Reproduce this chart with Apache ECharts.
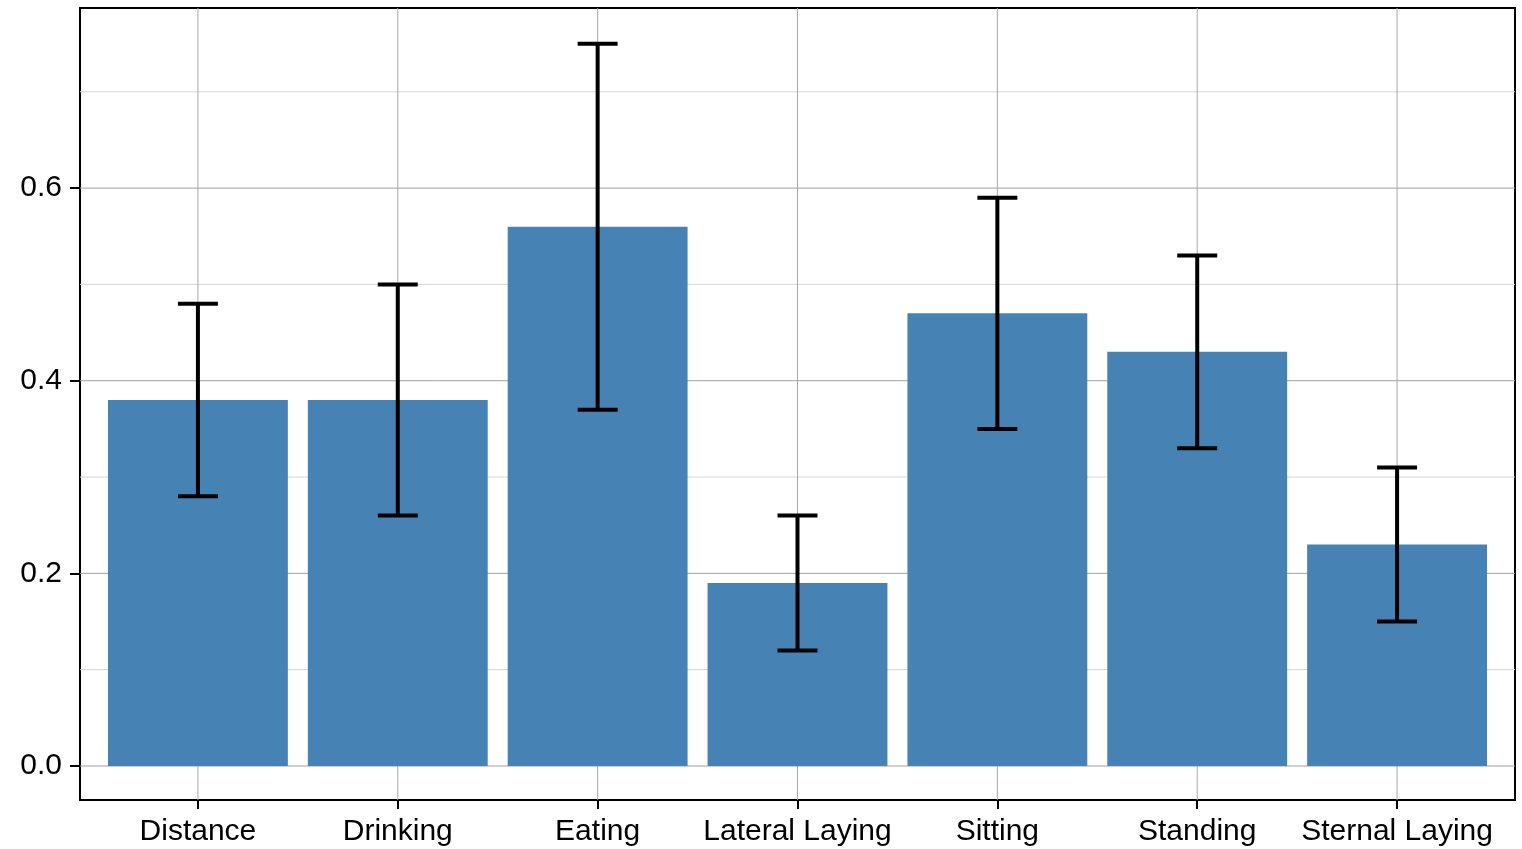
<!DOCTYPE html>
<html>
<head>
<meta charset="utf-8">
<script src="https://cdn.jsdelivr.net/npm/echarts@6/dist/echarts.min.js"></script>
<style>
  html, body { margin: 0; padding: 0; background: #fff; }
  #chart { width: 1522px; height: 849px; }
</style>
</head>
<body>
<div id="chart"></div>
<script>
// Behaviour categories and their mean values with lower/upper error bounds
const categories = ['Distance', 'Drinking', 'Eating', 'Lateral Laying', 'Sitting', 'Standing', 'Sternal Laying'];
const means = [0.38, 0.38, 0.56, 0.19, 0.47, 0.43, 0.23];
const lower = [0.28, 0.26, 0.37, 0.12, 0.35, 0.33, 0.15];
const upper = [0.48, 0.50, 0.75, 0.26, 0.59, 0.53, 0.31];
const yTicks = [0.0, 0.2, 0.4, 0.6];
const yMinor = [0.1, 0.3, 0.5, 0.7];

const FONT = 'Liberation Sans, Arial, sans-serif';
const idx = categories.map((_, i) => i);

const barData = idx.map(i => [i, means[i]]);
const errData = idx.map(i => [i, lower[i], upper[i]]);
// grid line records: [kind, value]; 0 = major horizontal, 1 = minor horizontal, 2 = vertical
const gridData = [
  ...yTicks.map(v => [0, v]),
  ...yMinor.map(v => [1, v]),
  ...idx.map(v => [2, v])
];

const chart = echarts.init(document.getElementById('chart'), null, { renderer: 'canvas' });

chart.setOption({
  animation: false,
  backgroundColor: '#ffffff',
  grid: {
    left: 80, right: 7, top: 8, bottom: 49,
    show: true, borderColor: '#000', borderWidth: 2, backgroundColor: 'transparent'
  },
  xAxis: {
    type: 'value',
    min: -0.59, max: 6.59,
    axisLine: { show: false, onZero: false },
    splitLine: { show: false },
    axisTick: { show: true, customValues: idx, length: 9, lineStyle: { color: '#000', width: 2 } },
    axisLabel: {
      customValues: idx,
      formatter: v => categories[Math.round(v)],
      fontFamily: FONT, fontSize: 30, color: '#000', margin: 17
    }
  },
  yAxis: {
    type: 'value',
    min: -0.0353, max: 0.787,
    axisLine: { show: false, onZero: false },
    splitLine: { show: false },
    axisTick: { show: true, customValues: yTicks, length: 10, lineStyle: { color: '#000', width: 2 } },
    axisLabel: {
      customValues: yTicks,
      formatter: v => v.toFixed(1),
      fontFamily: FONT, fontSize: 30, color: '#000', margin: 18
    }
  },
  series: [
    {
      // grid lines under the bars
      type: 'custom', z: 1, silent: true,
      data: gridData,
      renderItem: (params, api) => {
        const kind = api.value(0), v = api.value(1);
        const cs = params.coordSys;
        if (kind === 2) {
          const x = api.coord([v, 0])[0];
          return {
            type: 'line',
            shape: { x1: x, y1: cs.y, x2: x, y2: cs.y + cs.height },
            style: { stroke: '#a8a8a8', lineWidth: 1 }
          };
        }
        const y = api.coord([0, v])[1];
        return {
          type: 'line',
          shape: { x1: cs.x, y1: y, x2: cs.x + cs.width, y2: y },
          style: { stroke: kind === 0 ? '#a0a0a0' : '#d6d6d6', lineWidth: 1 }
        };
      }
    },
    {
      // bars
      type: 'custom', z: 2,
      data: barData,
      renderItem: (params, api) => {
        const x = api.value(0), y = api.value(1);
        const p0 = api.coord([x - 0.45, y]);
        const p1 = api.coord([x + 0.45, 0]);
        return {
          type: 'rect',
          shape: { x: p0[0], y: p0[1], width: p1[0] - p0[0], height: p1[1] - p0[1] },
          style: { fill: '#4682B4' }
        };
      }
    },
    {
      // error bars with caps
      type: 'custom', z: 3,
      data: errData,
      renderItem: (params, api) => {
        const x = api.value(0);
        const lo = api.coord([x, api.value(1)]);
        const hi = api.coord([x, api.value(2)]);
        const half = (api.coord([x + 0.1, 0])[0] - api.coord([x, 0])[0]);
        const st = { stroke: '#000', lineWidth: 4 };
        return {
          type: 'group',
          children: [
            { type: 'line', shape: { x1: lo[0], y1: lo[1], x2: hi[0], y2: hi[1] }, style: st },
            { type: 'line', shape: { x1: hi[0] - half, y1: hi[1], x2: hi[0] + half, y2: hi[1] }, style: st },
            { type: 'line', shape: { x1: lo[0] - half, y1: lo[1], x2: lo[0] + half, y2: lo[1] }, style: st }
          ]
        };
      }
    }
  ]
});
</script>
</body>
</html>
